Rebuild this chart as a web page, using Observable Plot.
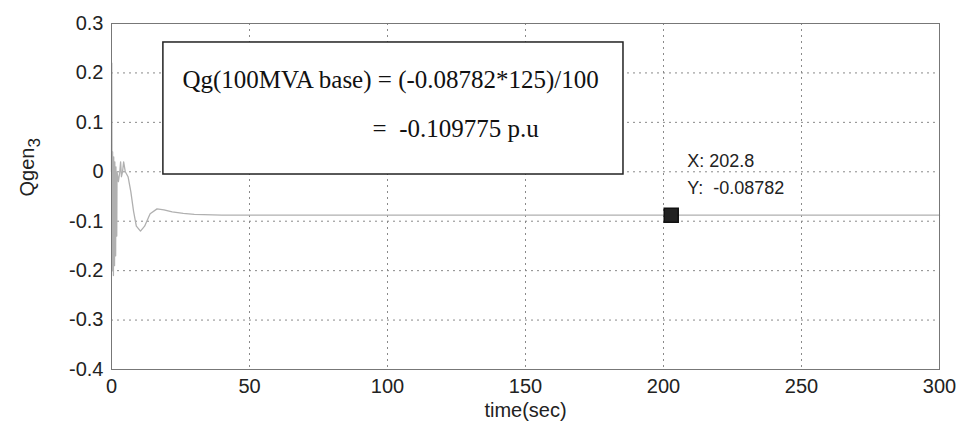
<!DOCTYPE html>
<html><head><meta charset="utf-8">
<script src="https://cdn.jsdelivr.net/npm/d3@7"></script>
<script src="https://cdn.jsdelivr.net/npm/@observablehq/plot@0.6"></script>
<style>body{margin:0;background:#fff}</style>
</head><body><div id="chart"></div>
<script>
// time (sec) and Qgen3 values
const time = [0, 0.1, 0.2, 0.3, 0.4, 0.5, 0.6, 0.7, 0.8, 0.9, 1.0, 1.1, 1.2, 1.3, 1.4, 1.5, 1.6, 1.7, 1.8, 1.9, 2.0,
  2.5, 3.0, 3.3, 3.6, 4.0, 4.4, 5.0, 6.0, 7.0, 8.0, 9.0, 10.5, 12.0, 14.0, 16.5, 19.0, 22.0, 26.0, 30.0, 40.0, 60.0, 100.0, 150.0, 200.0, 250.0, 300.0];
const qgen = [0.0, 0.22, -0.05, -0.2, 0.04, -0.18, -0.02, -0.21, 0.03, -0.15, -0.01, -0.19, 0.02, -0.12, -0.03, -0.17, 0.01, -0.1, -0.04, -0.13, 0.0,
  -0.02, 0.0, 0.02, -0.01, 0.0, 0.02, 0.0, -0.01, -0.04, -0.08, -0.11, -0.12, -0.11, -0.085, -0.075, -0.077, -0.081, -0.084, -0.086, -0.0875, -0.0878, -0.08782, -0.08782, -0.08782, -0.08782, -0.08782];

const xTicks = [0, 50, 100, 150, 200, 250, 300];
const yTicks = [-0.4, -0.3, -0.2, -0.1, 0, 0.1, 0.2, 0.3];
const yTickLabels = ["-0.4", "-0.3", "-0.2", "-0.1", "0", "0.1", "0.2", "0.3"];

// annotation box (data coordinates)
const boxX = [18.8, 185.5];
const boxY = [-0.0055, 0.2616];
const boxLines = ["Qg(100MVA base) = (-0.08782*125)/100", "=  -0.109775 p.u"];
const boxLineX = [25.7, 94.6];
const boxLineY = [0.186, 0.0856];

// data tip
const tipX = 202.8;
const tipY = -0.08782;
const tipLabels = ["X: 202.8", "Y:  -0.08782"];

const data = time.map((t, i) => ({t, q: qgen[i]}));
const boxData = [{x1: boxX[0], x2: boxX[1], y1: boxY[0], y2: boxY[1]}];
const boxText = boxLines.map((s, i) => ({s, x: boxLineX[i], y: boxLineY[i]}));

const chart = Plot.plot({
  width: 962, height: 429,
  marginLeft: 111, marginRight: 23, marginTop: 23, marginBottom: 60,
  style: {fontFamily: "'Liberation Sans', Arial, sans-serif", fontSize: "20px", color: "#222", background: "#fff"},
  x: {domain: [0, 300]},
  y: {domain: [-0.4, 0.3]},
  marks: [
    Plot.gridX(xTicks, {stroke: "#8a8a8a", strokeOpacity: 1, strokeDasharray: "2,4"}),
    Plot.gridY(yTicks, {stroke: "#8a8a8a", strokeOpacity: 1, strokeDasharray: "2,4"}),
    Plot.axisX(xTicks, {tickSize: 0, tickPadding: 9, label: null, fontSize: 20}),
    Plot.axisY(yTicks, {tickSize: 0, tickPadding: 8, label: null, fontSize: 20,
      tickFormat: d => yTickLabels[yTicks.indexOf(d)]}),
    Plot.line(data, {x: "t", y: "q", stroke: "#b0b0b0", strokeWidth: 1.3}),
    Plot.rect(boxData, {x1: "x1", x2: "x2", y1: "y1", y2: "y2", fill: "#fff", stroke: "#222", strokeWidth: 1.5}),
    Plot.text(boxText, {x: "x", y: "y", text: "s", textAnchor: "start",
      fontFamily: "'Liberation Serif', 'Times New Roman', serif", fontSize: 25, fill: "#111"}),
    Plot.dot([{x: tipX, y: tipY}], {x: "x", y: "y", symbol: "square", r: 7.9, fill: "#222", stroke: "#111"}),
    Plot.text([{x: tipX, y: tipY, s: tipLabels[0]}], {x: "x", y: "y", text: "s", textAnchor: "start", dx: 16, dy: -54, fontSize: 18, fill: "#222"}),
    Plot.text([{x: tipX, y: tipY, s: tipLabels[1]}], {x: "x", y: "y", text: "s", textAnchor: "start", dx: 16, dy: -27, fontSize: 18, fill: "#222"}),
    Plot.frame({stroke: "#777"}),
    Plot.text(["time(sec)"], {frameAnchor: "bottom", dy: 47, fontSize: 20, fill: "#222"}),
    Plot.text(["Qgen3"], {frameAnchor: "left", dx: -84, rotate: -90, fontSize: 20, fill: "#222"})
  ]
});
document.getElementById("chart").appendChild(chart);
// subscript for y label
for (const t of chart.querySelectorAll("text")) {
  if (t.textContent === "Qgen3") {
    t.textContent = "Qgen";
    const ts = document.createElementNS("http://www.w3.org/2000/svg", "tspan");
    ts.setAttribute("dy", "0.35em");
    ts.setAttribute("font-size", "17");
    ts.textContent = "3";
    t.appendChild(ts);
  }
}
</script></body></html>
